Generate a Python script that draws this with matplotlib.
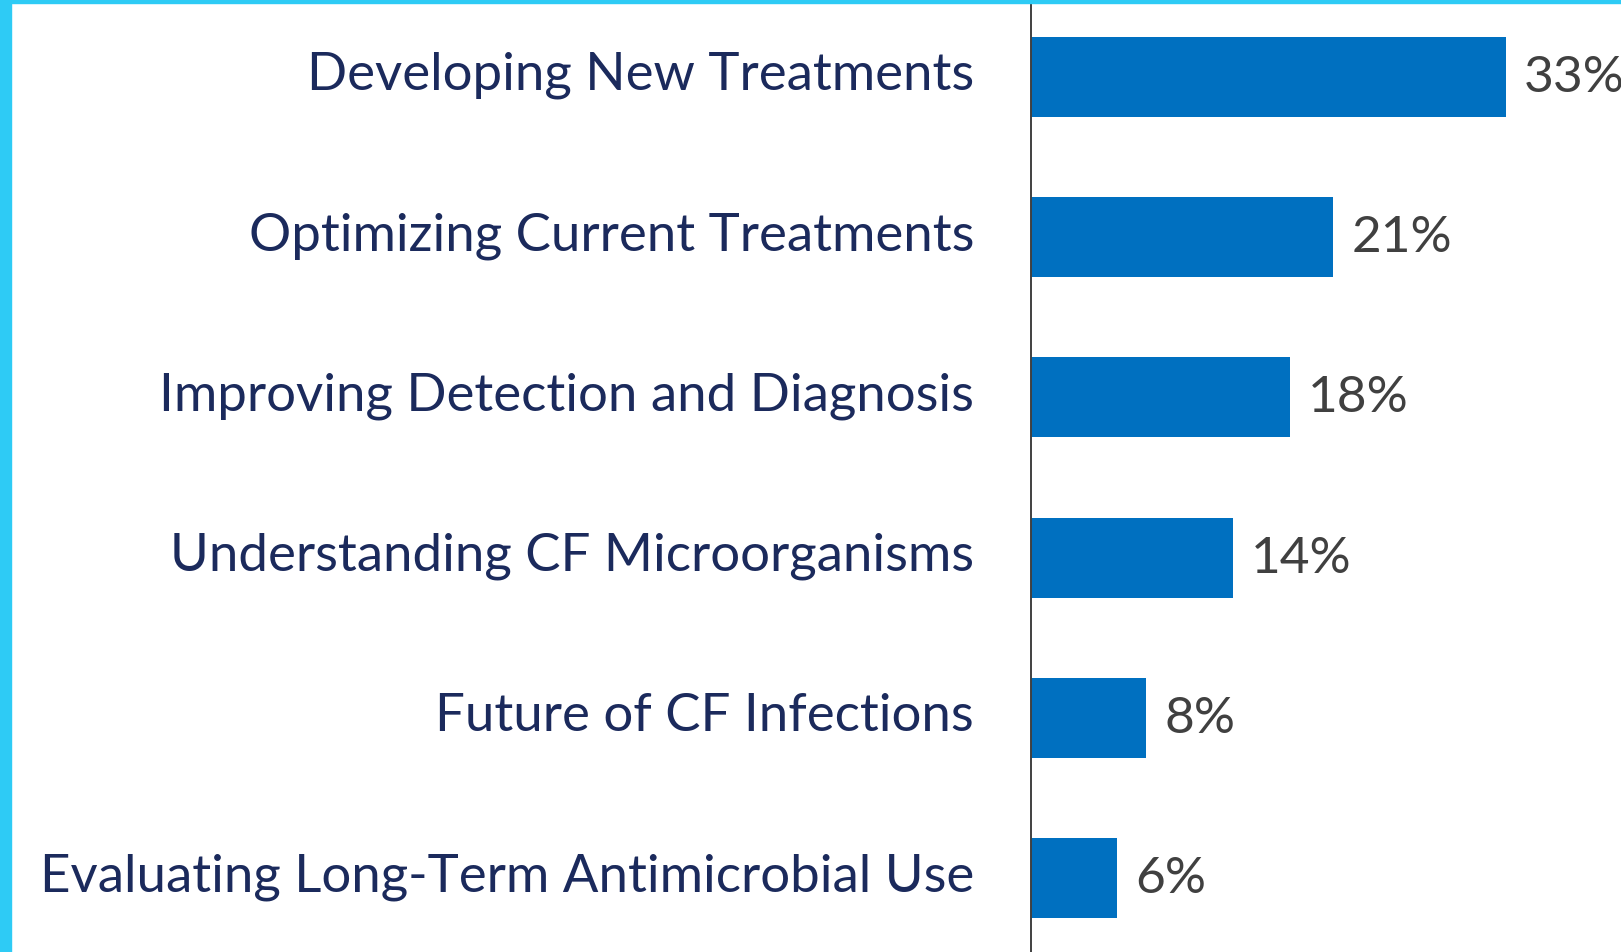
import matplotlib
matplotlib.use("Agg")
import matplotlib.pyplot as plt
import matplotlib.transforms as mtransforms
from matplotlib.patches import Rectangle

# data
categories = [
    "Developing New Treatments",
    "Optimizing Current Treatments",
    "Improving Detection and Diagnosis",
    "Understanding CF Microorganisms",
    "Future of CF Infections",
    "Evaluating Long-Term Antimicrobial Use",
]
percent = [33, 21, 18, 14, 8, 6]

BAR_COLOR = "#0070C0"
LABEL_COLOR = "#1B2A5C"
VALUE_COLOR = "#404040"
FRAME_COLOR = "#2ECBF5"

W, H = 1621, 953
fig = plt.figure(figsize=(W / 100, H / 100), dpi=100)
fig.patch.set_facecolor("white")

ax = fig.add_axes([1031 / W, 0, (W - 1031) / W, 1 - 4 / H])
ypos = list(range(len(categories)))
bars = ax.barh(ypos, percent, height=0.5, color=BAR_COLOR, zorder=2)

ax.set_xlim(0, (W - 1031) / 14.4)
ax.set_ylim(len(categories) - 0.54, -0.46)

ax.set_yticks(ypos)
ax.set_yticklabels(categories, fontsize=38, color=LABEL_COLOR, family="Lato")
ax.tick_params(axis="y", length=0, pad=41)
ax.set_xticks([])
# labels sit a little above the bar centres in the reference
shift = mtransforms.ScaledTranslation(0, 7 / 100, fig.dpi_scale_trans)
for lbl in ax.get_yticklabels():
    lbl.set_transform(lbl.get_transform() + shift)

for side in ["top", "right", "bottom"]:
    ax.spines[side].set_visible(False)
ax.spines["left"].set_color("#404040")
ax.spines["left"].set_linewidth(1.4)
ax.spines["left"].set_zorder(3)

ax.bar_label(bars, labels=[f"{v}%" for v in percent], padding=13,
             fontsize=37, color=VALUE_COLOR, family="Lato")

# cyan slide frame on the left and top edges
fig.patches.append(Rectangle((0, 0), 11 / W, 1, transform=fig.transFigure,
                             color=FRAME_COLOR, zorder=5))
fig.patches.append(Rectangle((0, 1 - 4 / H), 1, 4 / H, transform=fig.transFigure,
                             color=FRAME_COLOR, zorder=5))

fig.savefig("out.png", dpi=100)
